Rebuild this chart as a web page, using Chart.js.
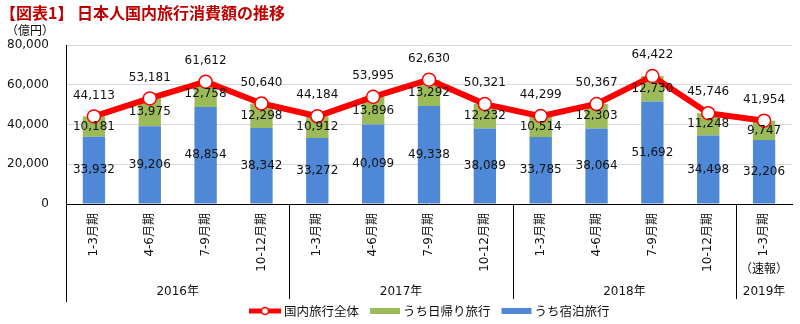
<!DOCTYPE html>
<html>
<head>
<meta charset="utf-8">
<script src="https://cdn.jsdelivr.net/npm/chart.js@4.4.1/dist/chart.umd.min.js"></script>
<style>
  html, body { margin: 0; padding: 0; background: #fff; }
  #wrap { width: 800px; height: 324px; }
</style>
</head>
<body>
<div id="wrap"><canvas id="chart"></canvas></div>
<script>
const quarters = ['1-3月期', '4-6月期', '7-9月期', '10-12月期',
                  '1-3月期', '4-6月期', '7-9月期', '10-12月期',
                  '1-3月期', '4-6月期', '7-9月期', '10-12月期',
                  '1-3月期'];
const quarterNotes = ['', '', '', '', '', '', '', '', '', '', '', '', '（速報）'];
const yearLabels = ['2016年', '2017年', '2018年', '2019年'];
const yearSpans = [4, 4, 4, 1];

const stayTrips = [33932, 39206, 48854, 38342, 33272, 40099, 49338, 38089, 33785, 38064, 51692, 34498, 32206];
const dayTrips  = [10181, 13975, 12758, 12298, 10912, 13896, 13292, 12232, 10514, 12303, 12730, 11248, 9747];
const allTrips  = [44113, 53181, 61612, 50640, 44184, 53995, 62630, 50321, 44299, 50367, 64422, 45746, 41954];

const yTicks = [0, 20000, 40000, 60000, 80000];

const RED = '#ff0000';
const GREEN = '#9bbb59';
const BLUE = '#4f88d6';
const NUM_FONT = '12px "DejaVu Sans", "Noto Sans CJK JP"';
const JP_FONT = '"DejaVu Sans", "Noto Sans CJK JP", sans-serif';

const fmt = v => v.toLocaleString('en-US');

// legend drawn by hand so it can sit under the plot like the original sheet
const legendItems = [
  { text: '国内旅行全体', kind: 'line', color: RED },
  { text: 'うち日帰り旅行', kind: 'box', color: GREEN },
  { text: 'うち宿泊旅行', kind: 'box', color: BLUE }
];

function drawLegend(ctx) {
  const y = 311;
  let x = 249;
  ctx.save();
  ctx.font = '12.5px "Noto Sans CJK JP"';
  ctx.textAlign = 'left';
  ctx.textBaseline = 'middle';
  legendItems.forEach(item => {
    let w;
    if (item.kind === 'line') {
      w = 32;
      ctx.strokeStyle = item.color;
      ctx.lineWidth = 5;
      ctx.beginPath();
      ctx.moveTo(x, y);
      ctx.lineTo(x + w, y);
      ctx.stroke();
      ctx.fillStyle = '#fff';
      ctx.lineWidth = 1.5;
      ctx.beginPath();
      ctx.arc(x + 16, y, 3.5, 0, Math.PI * 2);
      ctx.fill();
      ctx.stroke();
    } else {
      w = 30;
      ctx.fillStyle = item.color;
      ctx.fillRect(x, y - 3, w, 6);
    }
    x += w + 3;
    ctx.fillStyle = '#111';
    ctx.fillText(item.text, x, y);
    x += ctx.measureText(item.text).width + 11;
  });
  ctx.restore();
}

const decorations = {
  id: 'decorations',
  afterDatasetsDraw(chart) {
    const ctx = chart.ctx;
    ctx.save();
    ctx.font = NUM_FONT;
    ctx.fillStyle = '#111';
    ctx.textAlign = 'center';
    ctx.textBaseline = 'middle';
    [0, 1].forEach(di => {
      const meta = chart.getDatasetMeta(di);
      const vals = chart.data.datasets[di].data;
      meta.data.forEach((bar, i) => {
        ctx.fillText(fmt(vals[i]), bar.x, (bar.y + bar.base) / 2);
      });
    });
    const lineMeta = chart.getDatasetMeta(2);
    lineMeta.data.forEach((pt, i) => {
      ctx.fillText(fmt(allTrips[i]), pt.x, pt.y - 21);
    });
    ctx.restore();
  },
  afterDraw(chart) {
    const ctx = chart.ctx;
    const x = chart.scales.x;
    const area = chart.chartArea;
    const step = x.getPixelForValue(1) - x.getPixelForValue(0);
    const bottom = 302;
    ctx.save();
    ctx.strokeStyle = '#000';
    ctx.lineWidth = 1;
    // left axis continues through the label rows
    ctx.beginPath();
    ctx.moveTo(Math.round(area.left) + 0.5, area.bottom);
    ctx.lineTo(Math.round(area.left) + 0.5, bottom);
    ctx.stroke();

    ctx.font = '12px ' + JP_FONT;
    ctx.fillStyle = '#111';
    ctx.textAlign = 'center';
    ctx.textBaseline = 'middle';
    let start = 0;
    yearLabels.forEach((label, k) => {
      const end = start + yearSpans[k];
      const left = x.getPixelForValue(start) - step / 2;
      const right = x.getPixelForValue(end - 1) + step / 2;
      ctx.fillText(label, (left + right) / 2, 292);
      if (k < yearLabels.length - 1) {
        const sx = Math.round(right) + 0.5;
        ctx.beginPath();
        ctx.moveTo(sx, area.bottom);
        ctx.lineTo(sx, bottom - 3);
        ctx.stroke();
      }
      start = end;
    });

    quarterNotes.forEach((note, i) => {
      if (note) ctx.fillText(note, x.getPixelForValue(i), 270);
    });

    // unit label above the value axis
    ctx.fillText('（億円）', 30, 32);
    ctx.restore();

    drawLegend(ctx);
  }
};

new Chart(document.getElementById('chart'), {
  type: 'bar',
  data: {
    labels: quarters,
    datasets: [
      {
        label: 'うち宿泊旅行',
        data: stayTrips,
        backgroundColor: BLUE,
        barPercentage: 0.4,
        categoryPercentage: 1,
        order: 1
      },
      {
        label: 'うち日帰り旅行',
        data: dayTrips,
        backgroundColor: GREEN,
        barPercentage: 0.4,
        categoryPercentage: 1,
        order: 1
      },
      {
        type: 'line',
        label: '国内旅行全体',
        data: allTrips,
        borderColor: RED,
        borderWidth: 6,
        pointRadius: 6.5,
        pointBackgroundColor: '#fff',
        pointBorderColor: RED,
        pointBorderWidth: 1.5,
        tension: 0,
        order: 0
      }
    ]
  },
  options: {
    responsive: true,
    maintainAspectRatio: false,
    animation: false,
    layout: { padding: { left: 0, right: 6, top: 0, bottom: 0 } },
    scales: {
      x: {
        stacked: true,
        grid: { display: false, drawTicks: false },
        border: { display: true, color: '#000', width: 1 },
        ticks: {
          minRotation: 90,
          maxRotation: 90,
          padding: 9,
          color: '#111',
          font: { size: 12, family: JP_FONT }
        },
        afterFit(scale) { scale.height = 120; }
      },
      y: {
        stacked: true,
        min: 0,
        max: 80000,
        afterBuildTicks(scale) { scale.ticks = yTicks.map(v => ({ value: v })); },
        grid: { color: '#d9d9d9', drawTicks: false },
        border: { display: true, color: '#000', width: 1 },
        ticks: {
          padding: 17,
          color: '#111',
          font: { size: 12, family: '"DejaVu Sans"' },
          callback: v => fmt(v)
        },
        afterFit(scale) { scale.width = 66; }
      }
    },
    plugins: {
      title: {
        display: true,
        text: '【図表1】 日本人国内旅行消費額の推移',
        align: 'start',
        color: '#c00000',
        font: { size: 16, weight: 'bold', family: '"Noto Sans CJK JP"' },
        padding: { top: 3, bottom: 23 }
      },
      legend: { display: false },
      tooltip: { enabled: false }
    }
  },
  plugins: [decorations]
});
</script>
</body>
</html>
